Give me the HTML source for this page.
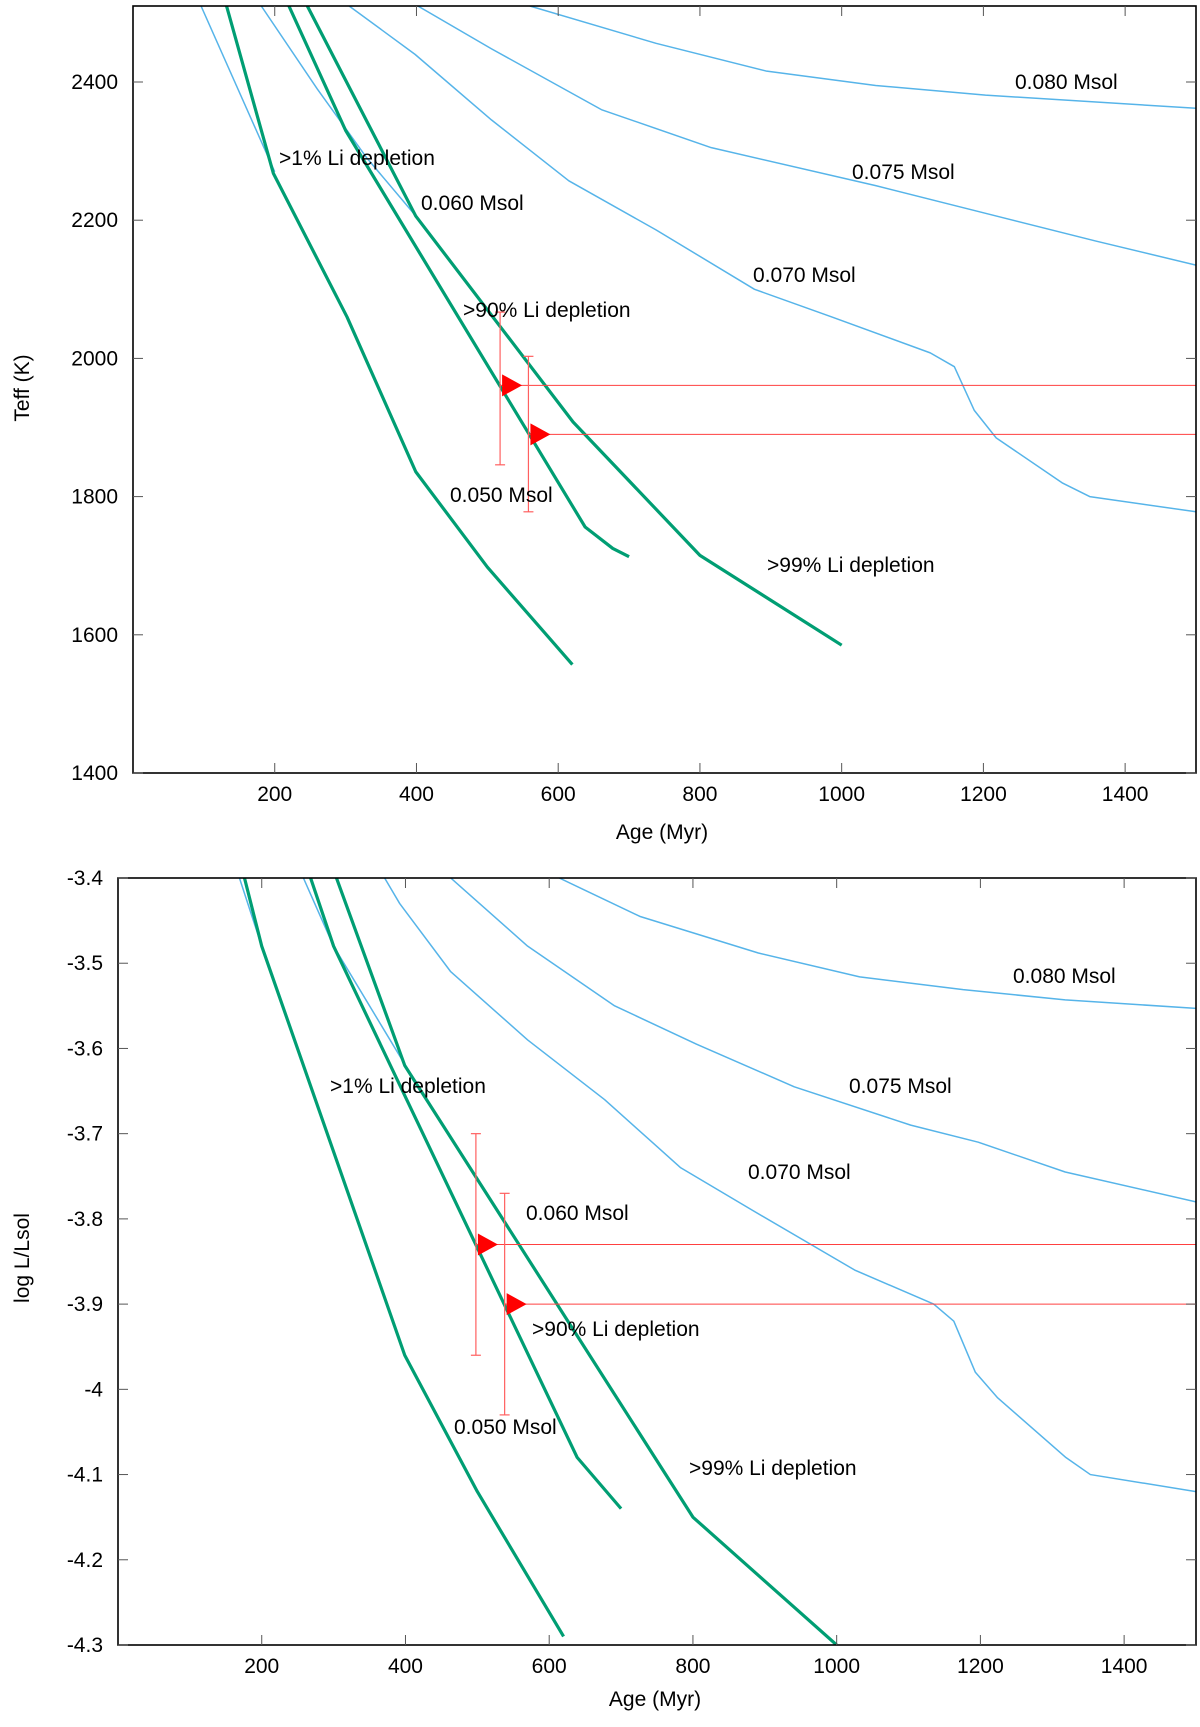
<!DOCTYPE html>
<html><head><meta charset="utf-8"><style>
body{margin:0;background:#fff}
svg text{font-family:"Liberation Sans",sans-serif;font-size:21px;fill:#000}
</style></head><body>
<svg id="chart" width="1200" height="1722" viewBox="0 0 1200 1722" xmlns="http://www.w3.org/2000/svg"></svg>
<script>
// ---- data (Age Myr) ----
const xTicks = [200,400,600,800,1000,1200,1400];
const teffTicks = [1400,1600,1800,2000,2200,2400];
const lumTicks = [-3.4,-3.5,-3.6,-3.7,-3.8,-3.9,-4,-4.1,-4.2,-4.3];
// Top panel: Teff
const tGreen1Age = [132,198,302,399,500,620];
const tGreen1Val = [2510,2268,2060,1836,1698,1557];
const tGreen90Age = [220,300,638,677,700];
const tGreen90Val = [2510,2330,1756,1725,1713];
const tGreen99Age = [246,399,621,800,1000];
const tGreen99Val = [2510,2206,1908,1715,1585];
const tB050Age = [96,200];
const tB050Val = [2510,2270];
const tB060Age = [181,260,330,400];
const tB060Val = [2510,2390,2290,2205];
const tB070Age = [305,398,506,615,738,877,986,1125,1159,1187,1218,1311,1350,1500];
const tB070Val = [2510,2440,2345,2257,2186,2100,2060,2008,1988,1925,1885,1820,1800,1778];
const tB075Age = [402,506,661,816,1048,1203,1358,1500];
const tB075Val = [2510,2448,2360,2305,2250,2210,2170,2135];
const tB080Age = [560,738,893,1048,1203,1500];
const tB080Val = [2510,2456,2416,2395,2381,2362];
const tObsAge = [518,558];
const tObsVal = [1961,1890];
const tObsLo = [1846,1778];
const tObsHi = [2067,2003];
// Bottom panel: log L
const lGreen1Age = [176,200,399,500,620];
const lGreen1Val = [-3.4,-3.48,-3.96,-4.12,-4.29];
const lGreen90Age = [268,300,639,700];
const lGreen90Val = [-3.4,-3.48,-4.08,-4.14];
const lGreen99Age = [304,399,800,1000];
const lGreen99Val = [-3.4,-3.62,-4.15,-4.3];
const lB050Age = [169,200];
const lB050Val = [-3.4,-3.48];
const lB060Age = [258,300,400];
const lB060Val = [-3.4,-3.48,-3.62];
const lB070Age = [371,392,463,570,677,783,883,1025,1135,1163,1193,1224,1319,1353,1500];
const lB070Val = [-3.4,-3.43,-3.51,-3.59,-3.66,-3.74,-3.79,-3.86,-3.9,-3.92,-3.98,-4.01,-4.08,-4.1,-4.12];
const lB075Age = [463,570,691,805,941,1103,1197,1318,1500];
const lB075Val = [-3.4,-3.48,-3.55,-3.595,-3.645,-3.69,-3.71,-3.745,-3.78];
const lB080Age = [614,726,891,1032,1176,1318,1500];
const lB080Val = [-3.4,-3.445,-3.488,-3.516,-3.531,-3.543,-3.553];
const lObsAge = [498,538];
const lObsVal = [-3.83,-3.90];
const lObsLo = [-3.96,-4.03];
const lObsHi = [-3.70,-3.77];

const NS="http://www.w3.org/2000/svg";
const svg=document.getElementById('chart');
function mk(tag,attrs,parent){const e=document.createElementNS(NS,tag);for(const k in attrs)e.setAttribute(k,attrs[k]);(parent||svg).appendChild(e);return e;}

function panel(cfg){
  const g=mk('g',{});
  
  
  const X=v=>cfg.x0+(v-0)/(1500-0)*(cfg.x1-cfg.x0);
  const Y=v=>cfg.y1-(v-cfg.vmin)/(cfg.vmax-cfg.vmin)*(cfg.y1-cfg.y0);
  const clipId=cfg.name+'-clip';
  const defs=mk('defs',{},g);
  const cp=mk('clipPath',{id:clipId},defs);
  mk('rect',{x:cfg.x0,y:cfg.y0,width:cfg.x1-cfg.x0,height:cfg.y1-cfg.y0},cp);
  const plot=mk('g',{'clip-path':'url(#'+clipId+')'},g);
  function line(ages,vals,color,w,name){
    const p=mk('polyline',{points:ages.map((a,i)=>X(a)+','+Y(vals[i])).join(' '),fill:'none',stroke:color,'stroke-width':w,'stroke-linejoin':'round'},plot);
    
    
  }
  const BL='#56b4e9', GR='#009e73';
  cfg.blue.forEach(s=>line(s[0],s[1],BL,1.5,s[2]));
  cfg.green.forEach(s=>line(s[0],s[1],GR,3.2,s[2]));
  // observations
  cfg.obs.age.forEach((a,i)=>{
    const x=X(a),y=Y(cfg.obs.val[i]);
    const ob=mk('g',{},plot);
    
    
    mk('line',{x1:x,y1:y,x2:cfg.x1,y2:y,stroke:'#ff4040','stroke-width':1},ob);
    mk('line',{x1:x,y1:Y(cfg.obs.lo[i]),x2:x,y2:Y(cfg.obs.hi[i]),stroke:'#ff6060','stroke-width':1.2},ob);
    mk('line',{x1:x-5,y1:Y(cfg.obs.lo[i]),x2:x+5,y2:Y(cfg.obs.lo[i]),stroke:'#ff6060','stroke-width':1.2},ob);
    mk('line',{x1:x-5,y1:Y(cfg.obs.hi[i]),x2:x+5,y2:Y(cfg.obs.hi[i]),stroke:'#ff6060','stroke-width':1.2},ob);
    mk('polygon',{points:(x+2)+','+(y-11)+' '+(x+2)+','+(y+11)+' '+(x+22)+','+y,fill:'#ff0000'},ob);
  });
  // frame
  const fr=mk('rect',{x:cfg.x0,y:cfg.y0,width:cfg.x1-cfg.x0,height:cfg.y1-cfg.y0,fill:'none',stroke:'#000','stroke-width':1.6},g);
  
  
  // ticks
  xTicks.forEach(t=>{
    const x=X(t);
    mk('line',{x1:x,y1:cfg.y1,x2:x,y2:cfg.y1-10,stroke:'#555','stroke-width':1},g);
    mk('line',{x1:x,y1:cfg.y0,x2:x,y2:cfg.y0+10,stroke:'#555','stroke-width':1},g);
    const tx=mk('text',{x:x,y:cfg.y1+28,'text-anchor':'middle'},g);tx.textContent=t;
    
    
  });
  cfg.yTicks.forEach(t=>{
    const y=Y(t);
    mk('line',{x1:cfg.x0,y1:y,x2:cfg.x0+10,y2:y,stroke:'#555','stroke-width':1},g);
    mk('line',{x1:cfg.x1,y1:y,x2:cfg.x1-10,y2:y,stroke:'#555','stroke-width':1},g);
    const tx=mk('text',{x:cfg.x0-15,y:y+7,'text-anchor':'end'},g);tx.textContent=cfg.fmt(t);
    
    
  });
  const xt=mk('text',{x:cfg.xlab[0],y:cfg.xlab[1],'text-anchor':'middle'},g);xt.textContent='Age (Myr)';
  
  
  const yt=mk('text',{x:0,y:0,'text-anchor':'middle',transform:'translate('+cfg.ylab[0]+','+cfg.ylab[1]+') rotate(-90)'},g);yt.textContent=cfg.ytitle;
  
  
  cfg.labels.forEach(l=>{
    const t=mk('text',{x:l[1],y:l[2]},g);t.textContent=l[0];
    
    
  });
}

panel({name:'teff-panel',x0:133,x1:1196,y0:6,y1:773,vmin:1400,vmax:2510,yTicks:teffTicks,fmt:t=>String(t),
  ytitle:'Teff (K)',xlab:[662,839],ylab:[29,388],
  green:[[tGreen1Age,tGreen1Val,'green-1pct-depletion'],[tGreen90Age,tGreen90Val,'green-90pct-depletion'],[tGreen99Age,tGreen99Val,'green-99pct-depletion']],
  blue:[[tB050Age,tB050Val,'track-0.050'],[tB060Age,tB060Val,'track-0.060'],[tB070Age,tB070Val,'track-0.070'],[tB075Age,tB075Val,'track-0.075'],[tB080Age,tB080Val,'track-0.080']],
  obs:{age:tObsAge,val:tObsVal,lo:tObsLo,hi:tObsHi},
  labels:[['0.080 Msol',1015,89],['0.075 Msol',852,179],['0.070 Msol',753,282],['>1% Li depletion',279,165],['0.060 Msol',421,210],['>90% Li depletion',463,317],['0.050 Msol',450,502],['>99% Li depletion',767,572]]
});
panel({name:'luminosity-panel',x0:118,x1:1196,y0:878,y1:1645,vmin:-4.3,vmax:-3.4,yTicks:lumTicks,fmt:t=>String(t),
  ytitle:'log L/Lsol',xlab:[655,1706],ylab:[29,1258],
  green:[[lGreen1Age,lGreen1Val,'green-1pct-depletion'],[lGreen90Age,lGreen90Val,'green-90pct-depletion'],[lGreen99Age,lGreen99Val,'green-99pct-depletion']],
  blue:[[lB050Age,lB050Val,'track-0.050'],[lB060Age,lB060Val,'track-0.060'],[lB070Age,lB070Val,'track-0.070'],[lB075Age,lB075Val,'track-0.075'],[lB080Age,lB080Val,'track-0.080']],
  obs:{age:lObsAge,val:lObsVal,lo:lObsLo,hi:lObsHi},
  labels:[['0.080 Msol',1013,983],['0.075 Msol',849,1093],['0.070 Msol',748,1179],['>1% Li depletion',330,1093],['0.060 Msol',526,1220],['>90% Li depletion',532,1336],['0.050 Msol',454,1434],['>99% Li depletion',689,1475]]
});
</script>
</body></html>
